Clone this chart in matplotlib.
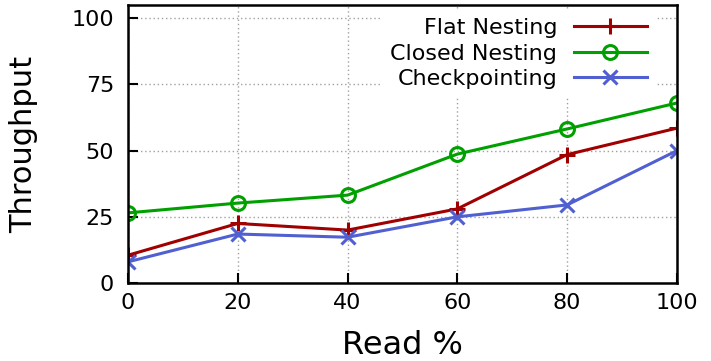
import matplotlib.pyplot as plt

# data
read_pct = [0, 20, 40, 60, 80, 100]
flat_nesting = [10.5, 22.5, 20, 28, 48.5, 58.5]
closed_nesting = [26.5, 30.2, 33.2, 48.7, 58.2, 68]
checkpointing = [8, 18.5, 17.3, 25, 29.5, 50]

fig = plt.figure(figsize=(7.11, 3.61), dpi=100)
ax = fig.add_axes([0.180, 0.216, 0.772, 0.770])

ax.plot(read_pct, flat_nesting, color='#a00000', lw=2.2, marker='+', ms=12, mew=2.2, label='Flat Nesting')
ax.plot(read_pct, closed_nesting, color='#00a000', lw=2.2, marker='o', ms=10, mew=2.2,
        mfc='none', label='Closed Nesting')
ax.plot(read_pct, checkpointing, color='#5060d0', lw=2.2, marker='x', ms=10, mew=2.2, label='Checkpointing')

ax.set_xlim(0, 100)
ax.set_ylim(0, 105)
ax.set_xticks(read_pct)
ax.set_yticks([0, 25, 50, 75, 100])
ax.grid(True, color='#a0a0a0', ls=(0, (1, 2)), lw=1)
ax.tick_params(direction='in', length=7.5, width=1.5, labelsize=16)
ax.tick_params(axis='x', pad=7)
ax.tick_params(axis='y', pad=10)
for s in ax.spines.values():
    s.set_linewidth(1.8)

ax.set_xlabel('Read %', fontsize=23, va='center')
ax.xaxis.set_label_coords(0.5, -0.225)
ax.set_ylabel('Throughput', fontsize=22, va='center')
ax.yaxis.set_label_coords(-0.19, 0.5)

leg = ax.legend(loc='upper right', bbox_to_anchor=(0.962, 0.985), markerfirst=False, frameon=True,
                fontsize=16, handlelength=3.3, labelspacing=0.25, borderaxespad=0,
                handletextpad=0.75, borderpad=0.4)
leg.get_frame().set_edgecolor('none')
leg.get_frame().set_facecolor('white')
leg.get_frame().set_alpha(1)

fig.savefig('out.png', dpi=100)
